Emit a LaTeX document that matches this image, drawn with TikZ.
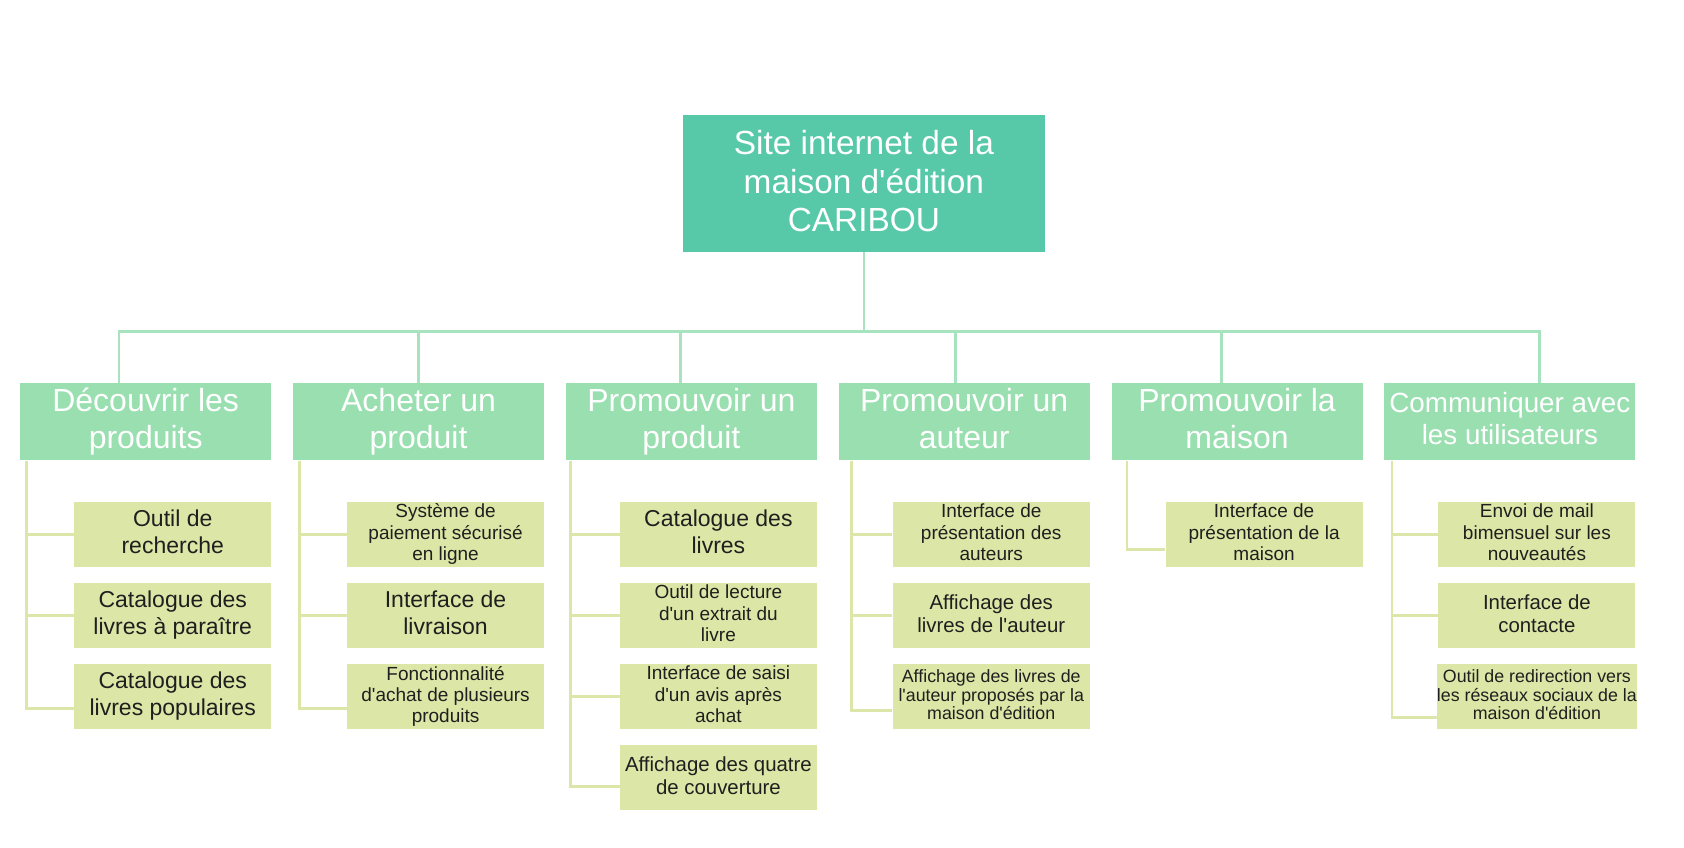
\documentclass[tikz,border=0pt]{standalone}
\usepackage{fontspec}
\setmainfont{Liberation Sans}
\usetikzlibrary{positioning}

\definecolor{rootgreen}{HTML}{57C9A9}
\definecolor{headgreen}{HTML}{99DFB0}
\definecolor{leafolive}{HTML}{DCE6A6}
\definecolor{buslink}{HTML}{A6E3BE}
\definecolor{stemlink}{HTML}{DCE6A8}

\newcommand{\ap}{\textquotesingle}

\begin{document}
\begin{tikzpicture}[
    node distance=0.27cm and 0.37cm,
    rootbox/.style={fill=rootgreen, text=white, align=center, inner sep=0pt, minimum width=6.36cm, minimum height=2.41cm, font=\fontsize{16.7}{19.2}\selectfont, execute at end node={\rule[-0.12em]{0pt}{0.12em}}},
    headbox/.style={fill=headgreen, text=white, align=center, inner sep=0pt, minimum width=4.41cm, minimum height=1.35cm, font=\fontsize{16}{18.4}\selectfont, execute at end node={\rule[-0.21em]{0pt}{0.21em}}},
    leafbox/.style={fill=leafolive, text=black!88, align=center, inner sep=0pt, minimum width=3.46cm, minimum height=1.14cm, font=\fontsize{11.5}{13.5}\selectfont, execute at end node={\rule[-0.21em]{0pt}{0.21em}}},
    leafmid/.style={font=\fontsize{10.2}{11.6}\selectfont},
    leafsmall/.style={font=\fontsize{9.5}{10.7}\selectfont},
    leaftiny/.style={font=\fontsize{8.9}{9.3}\selectfont},
    busline/.style={draw=buslink, line width=1.4pt},
    stemline/.style={draw=stemlink, line width=1.4pt}
]
\useasboundingbox (0,0) rectangle (29.59,-14.90);

% racine
\node[rootbox] (site) at (15.18,-3.22) {Site internet de la\\maison d\ap édition\\CARIBOU};

% fonctions principales
\node[headbox] (decouvrir) at (2.56,-7.41) {Découvrir les\\produits};
\node[headbox, right=of decouvrir] (acheter) {Acheter un\\produit};
\node[headbox, right=of acheter] (produit) {Promouvoir un\\produit};
\node[headbox, right=of produit] (auteur) {Promouvoir un\\auteur};
\node[headbox, right=of auteur] (maison) {Promouvoir la\\maison};
\node[headbox, right=of maison, font=\fontsize{13.9}{16}\selectfont] (contact) {Communiquer avec\\les utilisateurs};

% sous-fonctions
\node[leafbox, below=0.72cm of decouvrir.south east, anchor=north east] (dec1) {Outil de\\recherche};
\node[leafbox, below=of dec1] (dec2) {Catalogue des\\livres à paraître};
\node[leafbox, below=of dec2] (dec3) {Catalogue des\\livres populaires};

\node[leafbox, leafsmall, below=0.72cm of acheter.south east, anchor=north east] (ach1) {Système de\\paiement sécurisé\\en ligne};
\node[leafbox, below=of ach1] (ach2) {Interface de\\livraison};
\node[leafbox, leafsmall, below=of ach2] (ach3) {Fonctionnalité\\d\ap achat de plusieurs\\produits};

\node[leafbox, below=0.72cm of produit.south east, anchor=north east] (pro1) {Catalogue des\\livres};
\node[leafbox, leafsmall, below=of pro1] (pro2) {Outil de lecture\\d\ap un extrait du\\livre};
\node[leafbox, leafsmall, below=of pro2] (pro3) {Interface de saisi\\d\ap un avis après\\achat};
\node[leafbox, leafmid, below=of pro3] (pro4) {Affichage des quatre\\de couverture};

\node[leafbox, leafsmall, below=0.72cm of auteur.south east, anchor=north east] (aut1) {Interface de\\présentation des\\auteurs};
\node[leafbox, leafmid, below=of aut1] (aut2) {Affichage des\\livres de l\ap auteur};
\node[leafbox, leaftiny, below=of aut2] (aut3) {Affichage des livres de\\l\ap auteur proposés par la\\maison d\ap édition};

\node[leafbox, leafsmall, below=0.72cm of maison.south east, anchor=north east] (mai1) {Interface de\\présentation de la\\maison};

\node[leafbox, leafsmall, below=0.72cm of contact.south east, anchor=north east] (com1) {Envoi de mail\\bimensuel sur les\\nouveautés};
\node[leafbox, leafmid, below=of com1] (com2) {Interface de\\contacte};
\node[leafbox, leaftiny, below=of com2] (com3) {Outil de redirection vers\\les réseaux sociaux de la\\maison d\ap édition};

% liens racine -> fonctions
\draw[busline] (site.south) -- ++(0,-1.39) coordinate (bus);
\draw[busline] (bus) -| ([xshift=-0.47cm]decouvrir.north);
\draw[busline] (bus) -| ([xshift=0cm]acheter.north);
\draw[busline] (bus) -| ([xshift=-0.19cm]produit.north);
\draw[busline] (bus) -| ([xshift=-0.15cm]auteur.north);
\draw[busline] (bus) -| ([xshift=-0.28cm]maison.north);
\draw[busline] (bus) -| ([xshift=0.52cm]contact.north);

% liens fonctions -> sous-fonctions
\draw[stemline] ([xshift=0.12cm]decouvrir.south west) |- (dec1.west);
\draw[stemline] ([xshift=0.12cm]decouvrir.south west) |- (dec2.west);
\draw[stemline] ([xshift=0.12cm]decouvrir.south west) |- ([yshift=-0.21cm]dec3.west);
\draw[stemline] ([xshift=0.12cm]acheter.south west) |- (ach1.west);
\draw[stemline] ([xshift=0.12cm]acheter.south west) |- (ach2.west);
\draw[stemline] ([xshift=0.12cm]acheter.south west) |- ([yshift=-0.21cm]ach3.west);
\draw[stemline] ([xshift=0.09cm]produit.south west) |- (pro1.west);
\draw[stemline] ([xshift=0.09cm]produit.south west) |- (pro2.west);
\draw[stemline] ([xshift=0.09cm]produit.south west) |- (pro3.west);
\draw[stemline] ([xshift=0.09cm]produit.south west) |- ([yshift=-0.16cm]pro4.west);
\draw[stemline] ([xshift=0.23cm]auteur.south west) |- (aut1.west);
\draw[stemline] ([xshift=0.23cm]auteur.south west) |- (aut2.west);
\draw[stemline] ([xshift=0.23cm]auteur.south west) |- ([yshift=-0.25cm]aut3.west);
\draw[stemline] ([xshift=0.28cm]maison.south west) |- ([yshift=-0.26cm]mai1.west);
\draw[stemline] ([xshift=0.14cm]contact.south west) |- (com1.west);
\draw[stemline] ([xshift=0.14cm]contact.south west) |- (com2.west);
\draw[stemline] ([xshift=0.14cm]contact.south west) |- ([yshift=-0.37cm]com3.west);
\end{tikzpicture}
\end{document}
